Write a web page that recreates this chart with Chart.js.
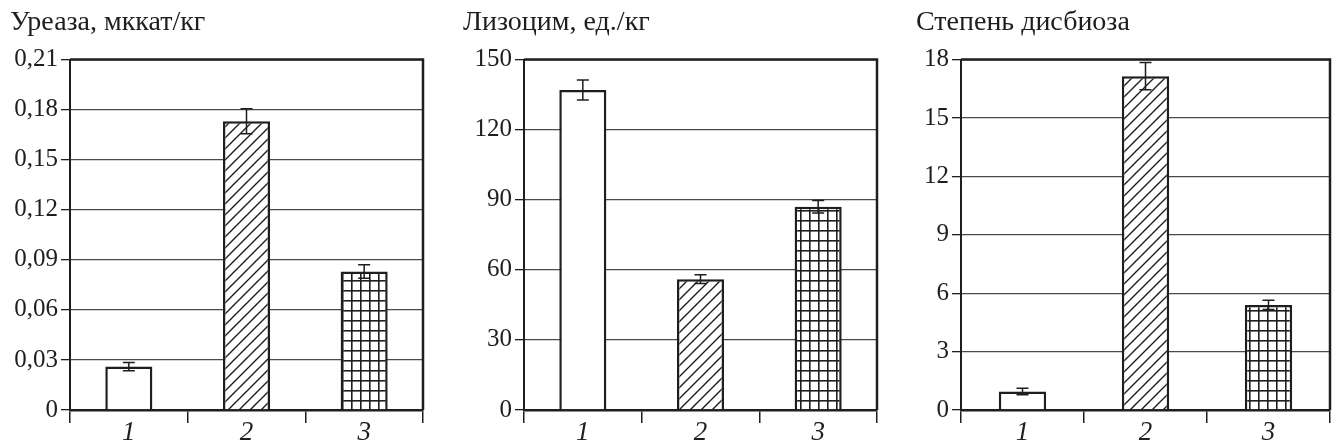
<!DOCTYPE html>
<html>
<head>
<meta charset="utf-8">
<script src="https://cdn.jsdelivr.net/npm/chart.js@4/dist/chart.umd.min.js"></script>
<style>
  html, body { margin: 0; padding: 0; background: #fff; }
  #wrap { position: relative; width: 1335px; height: 447px; overflow: hidden; }
  canvas { position: absolute; top: 0; }
</style>
</head>
<body>
<div id="wrap">
  <canvas id="c1" width="440" height="447" style="left:0px"></canvas>
  <canvas id="c2" width="440" height="447" style="left:440px"></canvas>
  <canvas id="c3" width="455" height="447" style="left:880px"></canvas>
</div>
<script>
// Groups on the x axis
const groups = ['1', '2', '3'];

// Urease, мккат/кг
const ureaseValues = [0.026, 0.173, 0.083];
const ureaseErrors = [0.0025, 0.0075, 0.004];
const ureaseTicks = ['0', '0,03', '0,06', '0,09', '0,12', '0,15', '0,18', '0,21'];

// Lysozyme, ед./кг
const lysozymeValues = [137, 56, 87];
const lysozymeErrors = [4.3, 1.9, 2.7];
const lysozymeTicks = ['0', '30', '60', '90', '120', '150'];

// Dysbiosis degree
const dysbiosisValues = [0.95, 17.15, 5.4];
const dysbiosisErrors = [0.17, 0.7, 0.24];
const dysbiosisTicks = ['0', '3', '6', '9', '12', '15', '18'];

const INK = '#1e1e1e';
const FONT = "'Liberation Serif', 'Times New Roman', serif";

// Fill patterns for the bars
function diagonalPattern() {
  const s = 11;
  const c = document.createElement('canvas');
  c.width = s; c.height = s;
  const g = c.getContext('2d');
  g.fillStyle = '#fff';
  g.fillRect(0, 0, s, s);
  g.strokeStyle = INK;
  g.lineWidth = 1.4;
  g.beginPath();
  g.moveTo(-1, s + 1); g.lineTo(s + 1, -1);
  g.moveTo(-1, 1); g.lineTo(1, -1);
  g.moveTo(s - 1, s + 1); g.lineTo(s + 1, s - 1);
  g.stroke();
  return g.createPattern(c, 'repeat');
}

function gridPattern() {
  const w = 9, h = 10;
  const c = document.createElement('canvas');
  c.width = w; c.height = h;
  const g = c.getContext('2d');
  g.fillStyle = '#fff';
  g.fillRect(0, 0, w, h);
  g.fillStyle = INK;
  g.fillRect(0, 0, 1.6, h);
  g.fillRect(0, 0, w, 1.6);
  return g.createPattern(c, 'repeat');
}

const fills = ['#ffffff', diagonalPattern(), gridPattern()];

// Error bars and the top/right frame of the plot box
const errorBarPlugin = {
  id: 'errorBars',
  afterDatasetsDraw(chart, args, opts) {
    const { ctx, scales: { y } } = chart;
    const meta = chart.getDatasetMeta(0);
    const vals = chart.data.datasets[0].data;
    ctx.save();
    ctx.strokeStyle = INK;
    ctx.lineWidth = 1.5;
    meta.data.forEach((bar, i) => {
      const top = y.getPixelForValue(vals[i] + opts.errors[i]);
      const bot = y.getPixelForValue(vals[i] - opts.errors[i]);
      const half = 6;
      ctx.beginPath();
      ctx.moveTo(bar.x, top); ctx.lineTo(bar.x, bot);
      ctx.moveTo(bar.x - half, top); ctx.lineTo(bar.x + half, top);
      ctx.moveTo(bar.x - half, bot); ctx.lineTo(bar.x + half, bot);
      ctx.stroke();
    });
    ctx.restore();
  }
};

const framePlugin = {
  id: 'frame',
  afterDraw(chart) {
    const { ctx, chartArea: a } = chart;
    ctx.save();
    ctx.strokeStyle = INK;
    ctx.lineWidth = 2.5;
    ctx.beginPath();
    ctx.moveTo(a.left, a.top);
    ctx.lineTo(a.right, a.top);
    ctx.lineTo(a.right, a.bottom);
    ctx.stroke();
    ctx.restore();
  }
};

function makeChart(id, title, values, errors, tickLabels, pad) {
  const tickValues = tickLabels.map(t => parseFloat(t.replace(',', '.')));
  const yMax = tickValues[tickValues.length - 1];
  return new Chart(document.getElementById(id), {
    type: 'bar',
    data: {
      labels: groups,
      datasets: [{
        data: values,
        backgroundColor: fills,
        borderColor: INK,
        borderWidth: 2.5,
        categoryPercentage: 1,
        barPercentage: pad.bar
      }]
    },
    options: {
      responsive: false,
      animation: false,
      layout: { padding: { left: pad.left, right: pad.right, top: 0, bottom: 0 } },
      plugins: {
        legend: { display: false },
        tooltip: { enabled: false },
        title: {
          display: true,
          text: title,
          align: 'start',
          color: INK,
          font: { family: FONT, size: 28, weight: 'normal', lineHeight: 1.2 },
          padding: { top: 6, bottom: 20 }
        },
        errorBars: { errors: errors }
      },
      scales: {
        x: {
          grid: {
            display: true,
            drawOnChartArea: false,
            drawTicks: true,
            tickLength: 13,
            color: INK,
            lineWidth: 1.5
          },
          border: { display: true, color: INK, width: 2.5 },
          ticks: {
            color: INK,
            padding: -6,
            font: { family: FONT, size: 27, style: 'italic' }
          },
          afterFit(scale) { scale.height = 37; }
        },
        y: {
          min: 0,
          max: yMax,
          afterBuildTicks(scale) { scale.ticks = tickValues.map(v => ({ value: v })); },
          grid: {
            color: '#4a4a4a',
            tickColor: INK,
            lineWidth: 1.3,
            tickLength: 9
          },
          border: { display: true, color: INK, width: 2 },
          ticks: {
            color: INK,
            padding: 3,
            font: { family: FONT, size: 25 },
            callback: (v, i) => tickLabels[i]
          },
          afterFit(scale) { scale.width = pad.axis; }
        }
      }
    },
    plugins: [errorBarPlugin, framePlugin]
  });
}

makeChart('c1', 'Уреаза, мккат/кг', ureaseValues, ureaseErrors, ureaseTicks,
  { left: 10, right: 17, axis: 60, bar: 0.40 });
makeChart('c2', 'Лизоцим, ед./кг', lysozymeValues, lysozymeErrors, lysozymeTicks,
  { left: 23, right: 3, axis: 61, bar: 0.40 });
makeChart('c3', 'Степень дисбиоза', dysbiosisValues, dysbiosisErrors, dysbiosisTicks,
  { left: 36, right: 5, axis: 45, bar: 0.385 });
</script>
</body>
</html>
